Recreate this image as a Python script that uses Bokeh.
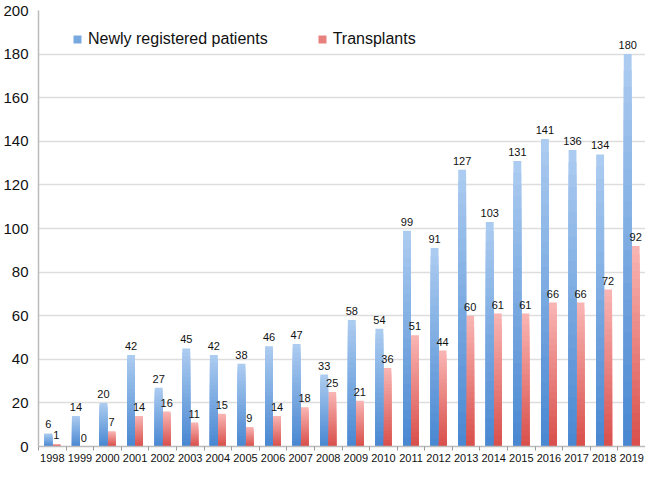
import numpy as np
from bokeh.plotting import figure
from bokeh.models import ColumnDataSource, FixedTicker, Legend, LegendItem, Range1d
from bokeh.core.properties import value
from bokeh.embed import file_html
from bokeh.resources import INLINE

years = ["1998", "1999", "2000", "2001", "2002", "2003", "2004", "2005", "2006", "2007", "2008",
         "2009", "2010", "2011", "2012", "2013", "2014", "2015", "2016", "2017", "2018", "2019"]
newly_registered = [6, 14, 20, 42, 27, 45, 42, 38, 46, 47, 33, 58, 54, 99, 91, 127, 103, 131, 141, 136, 134, 180]
transplants = [1, 0, 7, 14, 16, 11, 15, 9, 14, 18, 25, 21, 36, 51, 44, 60, 61, 61, 66, 66, 72, 92]
y_ticks = [0, 20, 40, 60, 80, 100, 120, 140, 160, 180, 200]

FONT = "Liberation Sans"
idx = np.arange(len(years))
off = 0.145
bw = 0.285

p = figure(width=645, height=464, output_backend="svg", toolbar_location=None,
           x_range=Range1d(-0.5, len(years) - 0.5), y_range=Range1d(0, 200),
           min_border_left=0, min_border_right=0, min_border_top=10, min_border_bottom=0)
p.outline_line_color = None
p.background_fill_color = "white"
p.border_fill_color = "white"


def mix(c1, c2, t):
    a = np.array([int(c1[i:i + 2], 16) for i in (1, 3, 5)])
    b = np.array([int(c2[i:i + 2], 16) for i in (1, 3, 5)])
    c = (a + (b - a) * t).round().astype(int)
    return "#%02x%02x%02x" % tuple(c)


steps = 24
blue_top, blue_bot = "#abcbf0", "#4a88d2"
red_top, red_bot = "#f8b4b2", "#d9504c"
nv = np.array(newly_registered, dtype=float)
tv = np.array(transplants, dtype=float)
first = {}
for k in range(steps):
    frac = 1 - k / steps
    t = k / (steps - 1)
    rb = p.vbar(x=idx - off, top=nv * frac, bottom=0, width=bw,
                fill_color=mix(blue_top, blue_bot, t), line_color=None)
    rr = p.vbar(x=idx + off, top=tv * frac, bottom=0, width=bw,
                fill_color=mix(red_top, red_bot, t), line_color=None)
    if k == steps // 2:
        first["b"] = rb
        first["r"] = rr

src_b = ColumnDataSource(dict(x=idx - off, y=nv, t=[str(v) for v in newly_registered]))
src_r = ColumnDataSource(dict(x=idx + off, y=tv, t=[str(v) for v in transplants]))
for s in (src_b, src_r):
    p.text(x="x", y="y", text="t", source=s, text_align="center", text_baseline="bottom",
           y_offset=-5, text_font=value(FONT), text_font_size="11px", text_color="#111111")

# axes
p.yaxis.ticker = FixedTicker(ticks=y_ticks)
p.yaxis.major_label_text_font = FONT
p.yaxis.major_label_text_font_size = "15px"
p.yaxis.major_label_text_color = "#111111"
p.yaxis.axis_line_color = "#bbbbbb"
p.yaxis.axis_line_width = 1.5
p.yaxis.major_tick_line_color = None
p.yaxis.minor_tick_line_color = None
p.yaxis.major_label_standoff = 4

p.xaxis.ticker = FixedTicker(ticks=list(idx), minor_ticks=list(np.arange(-0.5, len(years), 1.0)))
p.xaxis.major_label_overrides = {int(i): y for i, y in zip(idx, years)}
p.xaxis.major_label_text_font = FONT
p.xaxis.major_label_text_font_size = "11px"
p.xaxis.major_label_text_color = "#111111"
p.xaxis.axis_line_color = "#bbbbbb"
p.xaxis.axis_line_width = 1.5
p.xaxis.major_tick_line_color = None
p.xaxis.minor_tick_line_color = "#999999"
p.xaxis.minor_tick_in = 0
p.xaxis.minor_tick_out = 4
p.xaxis.major_tick_out = 0
p.xaxis.major_label_standoff = 3

p.xgrid.grid_line_color = None
p.ygrid.grid_line_color = "#dddddd"
p.ygrid.grid_line_width = 1.5

legend = Legend(items=[LegendItem(label="Newly registered patients", renderers=[first["b"]]),
                       LegendItem(label="Transplants", renderers=[first["r"]])],
                orientation="horizontal", location=(34, 398))
legend.label_text_font = FONT
legend.label_text_font_size = "16px"
legend.label_text_color = "#111111"
legend.glyph_width = 10
legend.glyph_height = 10
legend.spacing = 49
legend.padding = 0
legend.margin = 0
legend.label_standoff = 6
legend.border_line_color = None
legend.background_fill_alpha = 0
p.add_layout(legend, "center")

open("out.html", "w").write(file_html(p, INLINE))
